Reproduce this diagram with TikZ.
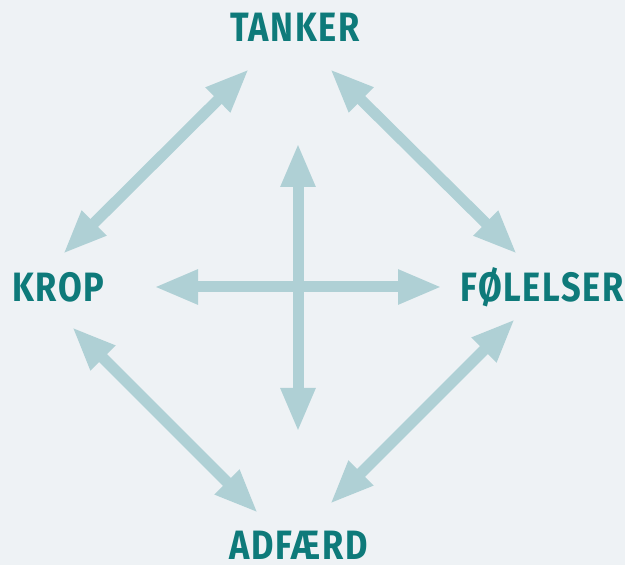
\documentclass[tikz,border=0pt]{standalone}
\usepackage{fontspec}
\setmainfont{Fira Sans}
\newfontfamily\labelfont[FakeStretch=0.84,LetterSpace=4]{Fira Sans Bold}
\usetikzlibrary{arrows.meta}
\definecolor{bgcol}{HTML}{EEF2F5}
\definecolor{txtcol}{HTML}{0E7A7A}
\definecolor{arrcol}{HTML}{AFD0D5}
\begin{document}
\begin{tikzpicture}[x=1pt,y=1pt,
  lbl/.style={inner sep=0pt, text=txtcol, font=\labelfont\fontsize{41}{41}\selectfont},
  dbl/.style={draw=arrcol, line width=11pt, {Triangle[length=44pt,width=32pt]}-{Triangle[length=44pt,width=32pt]}}]
\fill[bgcol] (0,0) rectangle (625,565);
\useasboundingbox (0,0) rectangle (625,565);
% labels
\node[lbl, anchor=base] (tanker) at (295,523) {TANKER};
\node[lbl, anchor=base west] (krop) at (12,263) {KROP};
\node[lbl, anchor=base east] (folelser) at (624,263) {FØLELSER};
\node[lbl, anchor=base] (adfaerd) at (299,5) {ADFÆRD};
% arrow end points
\coordinate (tk1) at (249,496);
\coordinate (tk2) at (63,311);
\coordinate (tf1) at (330,496);
\coordinate (tf2) at (517,311);
\coordinate (ka1) at (72,238);
\coordinate (ka2) at (258,52);
\coordinate (fa1) at (515,246);
\coordinate (fa2) at (330,61);
\coordinate (vt) at (298,422);
\coordinate (vb) at (298,133);
\coordinate (hl) at (154,278);
\coordinate (hr) at (442,278);
% arrows
\draw[dbl] (tk1) -- (tk2);
\draw[dbl] (tf1) -- (tf2);
\draw[dbl] (ka1) -- (ka2);
\draw[dbl] (fa1) -- (fa2);
\draw[dbl] (hl) -- (hr);
\draw[dbl] (vt) -- (vb);
\end{tikzpicture}
\end{document}
